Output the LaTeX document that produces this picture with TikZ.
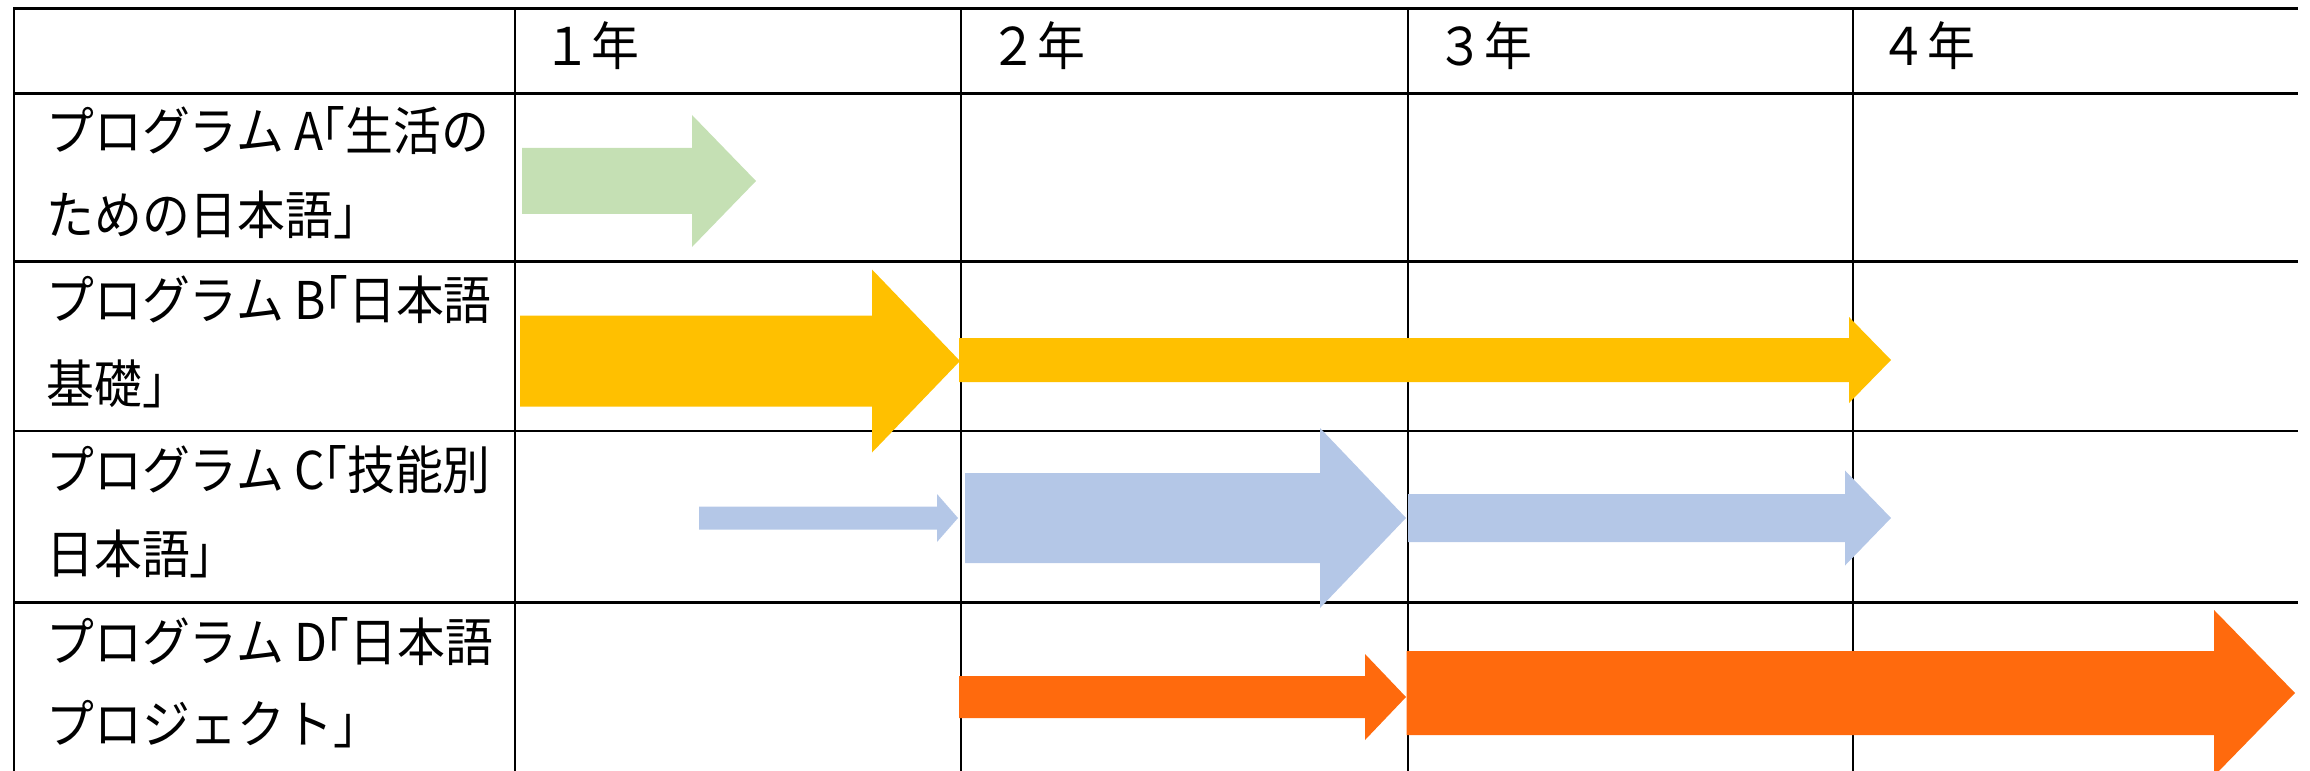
\documentclass[tikz,border=0pt]{standalone}
\usepackage{fontspec}
\newfontfamily\jpfont[FakeStretch=0.92]{Noto Sans CJK JP}
\definecolor{agreen}{HTML}{C5E0B4}
\definecolor{agold}{HTML}{FFC000}
\definecolor{ablue}{HTML}{B4C7E7}
\definecolor{aorange}{HTML}{FF6A0D}
% #1 colour, #2 tail x, #3 head base x, #4 tip x, #5 centre y, #6 shaft half height, #7 head half height
\newcommand{\fatarrow}[7]{%
  \fill[#1] (#2,#5-#6) -- (#3,#5-#6) -- (#3,#5-#7) -- (#4,#5) -- (#3,#5+#7) -- (#3,#5+#6) -- (#2,#5+#6) -- cycle;}
\begin{document}
\begin{tikzpicture}[x=0.5pt,y=-0.5pt,
  hline/.style={line width=1.4pt,black},
  vline/.style={line width=1.1pt,black},
  lbl/.style={anchor=west,inner sep=0pt,font={\jpfont\fontsize{26pt}{30pt}\selectfont}}]
\useasboundingbox (0,0) rectangle (2310,770);
\clip (0,0) rectangle (2310,770);
% grid
\foreach \y in {8.5,93.5,261.5,431,602.5}
  \draw[hline] (13,\y) -- (2298,\y);
\foreach \x in {14,515,961,1408,1853}
  \draw[vline] (\x,8) -- (\x,775);
% arrows
\fatarrow{agreen}{522}{692}{756}{181}{33}{66}
\fatarrow{agold}{520}{872}{960}{361}{45.5}{91.5}
\fatarrow{agold}{959}{1849}{1891}{360}{22}{43}
\fatarrow{ablue}{699}{937}{958}{518}{11.5}{24}
\fatarrow{ablue}{965}{1320}{1406}{518}{45}{90}
\fatarrow{ablue}{1408}{1845}{1891}{518}{24}{47.5}
\fatarrow{aorange}{959}{1365}{1406}{697}{21}{43}
\fatarrow{aorange}{1406.5}{2214}{2295}{693}{42}{83}
% header
\node[lbl] (y1) at (543,46) {１年};
\node[lbl] (y2) at (989,46) {２年};
\node[lbl] (y3) at (1436,46) {３年};
\node[lbl] (y4) at (1879,46) {４年};
% row labels
\node[lbl] (a1) at (46,131) {プログラム A\kern-0.5em「生活の};
\node[lbl] (a2) at (46,215) {ための日本語」};
\node[lbl] (b1) at (46,300) {プログラム B\kern-0.5em「日本語};
\node[lbl] (b2) at (46,384) {基礎」};
\node[lbl] (c1) at (46,470) {プログラム C\kern-0.5em「技能別};
\node[lbl] (c2) at (46,554) {日本語」};
\node[lbl] (d1) at (46,642) {プログラム D\kern-0.5em「日本語};
\node[lbl] (d2) at (46,724) {プロジェクト」};
\end{tikzpicture}
\end{document}
